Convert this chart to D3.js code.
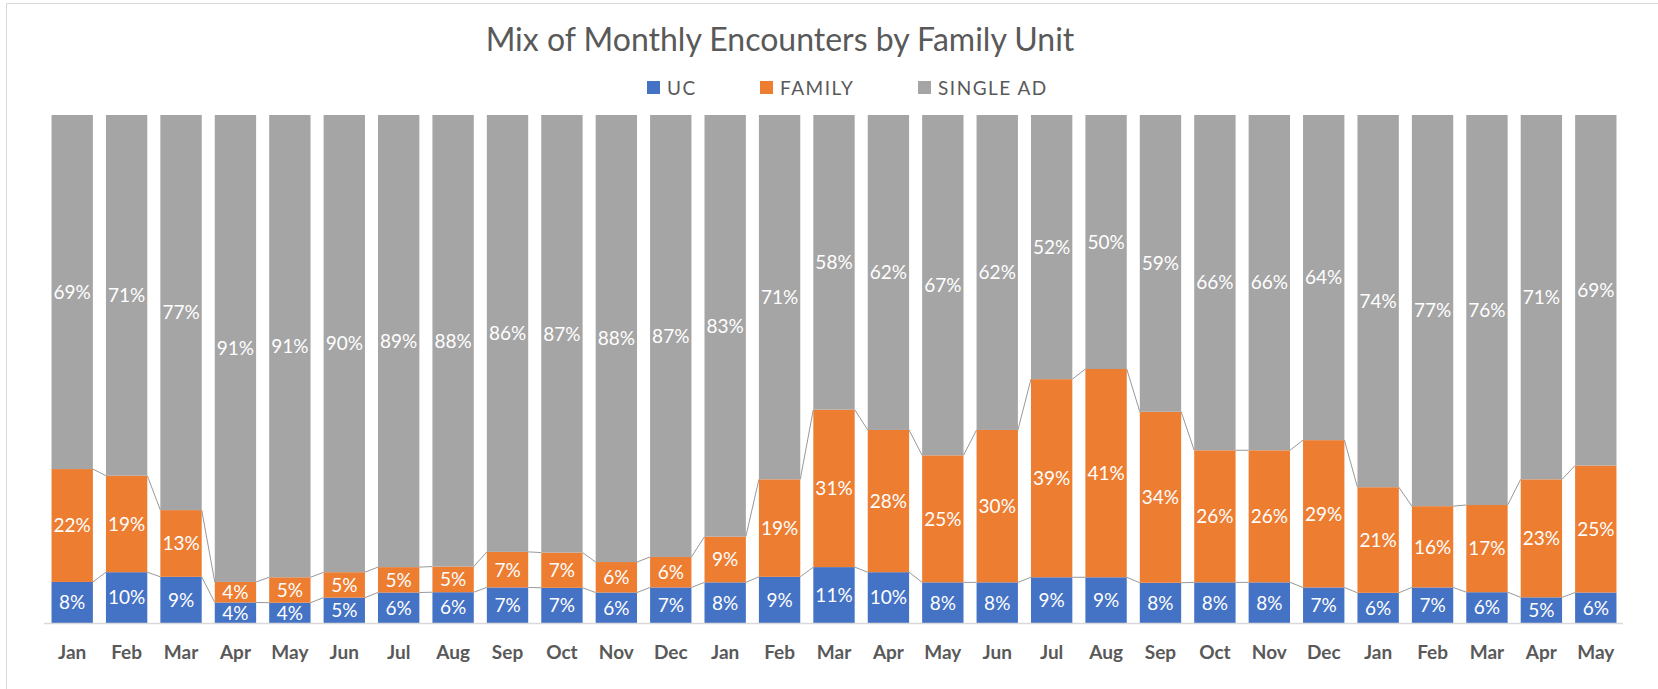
<!DOCTYPE html>
<html>
<head>
<meta charset="utf-8">
<script src="https://cdn.jsdelivr.net/npm/d3@7"></script>
<style>
  body { margin: 0; background: #fff; }
  svg { display: block; font-family: Lato, 'Open Sans', sans-serif; }
</style>
</head>
<body>
<svg></svg>
<script>
const months = ['Jan','Feb','Mar','Apr','May','Jun','Jul','Aug','Sep','Oct','Nov','Dec',
                'Jan','Feb','Mar','Apr','May','Jun','Jul','Aug','Sep','Oct','Nov','Dec',
                'Jan','Feb','Mar','Apr','May'];
const uc = [8,10,9,4,4,5,6,6,7,7,6,7,8,9,11,10,8,8,9,9,8,8,8,7,6,7,6,5,6];
const family = [22,19,13,4,5,5,5,5,7,7,6,6,9,19,31,28,25,30,39,41,34,26,26,29,21,16,17,23,25];
const singleAd = [69,71,77,91,91,90,89,88,86,87,88,87,83,71,58,62,67,62,52,50,59,66,66,64,74,77,76,71,69];
const seriesNames = ['UC', 'FAMILY', 'SINGLE AD'];
const seriesKeys = ['uc', 'family', 'single'];
const colors = ['#4472C4', '#ED7D31', '#A5A5A5'];

const width = 1658;
const height = 689;
const plotLeft = 45;
const plotRight = 1623;
const plotTop = 115;
const plotBottom = 623;

const svg = d3.select('svg')
  .attr('width', width)
  .attr('height', height);

const data = months.map((m, i) => ({ i: i, month: m, uc: uc[i], family: family[i], single: singleAd[i] }));

const stack = d3.stack()
  .keys(seriesKeys)
  .offset(d3.stackOffsetExpand);
const layers = stack(data);

const xScale = d3.scaleBand()
  .domain(d3.range(months.length))
  .range([plotLeft, plotRight])
  .paddingInner(0.24)
  .paddingOuter(0.12);

const yScale = d3.scaleLinear()
  .domain([0, 1])
  .range([plotBottom, plotTop]);

// chart area border (top and left edges visible)
svg.append('line')
  .attr('x1', 6.5).attr('y1', 3.5).attr('x2', width).attr('y2', 3.5)
  .attr('stroke', '#d9d9d9');
svg.append('line')
  .attr('x1', 6.5).attr('y1', 3.5).attr('x2', 6.5).attr('y2', height)
  .attr('stroke', '#d9d9d9');

// title
svg.append('text')
  .attr('x', 780)
  .attr('y', 51)
  .attr('text-anchor', 'middle')
  .style('font-size', '32px')
  .style('fill', '#595959')
  .text('Mix of Monthly Encounters by Family Unit');

// legend
const legendX = [647, 760, 918];
const legend = svg.append('g').attr('class', 'legend');
seriesNames.forEach((name, k) => {
  legend.append('rect')
    .attr('x', legendX[k])
    .attr('y', 81)
    .attr('width', 13)
    .attr('height', 13)
    .style('fill', colors[k]);
  legend.append('text')
    .attr('x', legendX[k] + 20)
    .attr('y', 95)
    .style('font-size', '19px')
    .style('letter-spacing', '1.5px')
    .style('fill', '#595959')
    .text(name);
});

// bars
const groups = svg.selectAll('g.layer')
  .data(layers)
  .enter()
  .append('g')
  .attr('class', 'layer')
  .style('fill', (d, k) => colors[k]);

groups.selectAll('rect')
  .data(d => d)
  .enter()
  .append('rect')
  .attr('x', d => xScale(d.data.i))
  .attr('y', d => yScale(d[1]))
  .attr('width', xScale.bandwidth())
  .attr('height', d => yScale(d[0]) - yScale(d[1]));

// series lines between bars
const seriesLine = svg.append('g')
  .attr('fill', 'none')
  .attr('stroke', '#999999')
  .attr('stroke-width', 1);
layers.slice(0, 2).forEach(layer => {
  for (let j = 0; j < layer.length - 1; j++) {
    seriesLine.append('line')
      .attr('x1', xScale(j) + xScale.bandwidth())
      .attr('y1', yScale(layer[j][1]))
      .attr('x2', xScale(j + 1))
      .attr('y2', yScale(layer[j + 1][1]));
  }
});

// data labels
layers.forEach((layer, k) => {
  svg.append('g')
    .selectAll('text')
    .data(layer)
    .enter()
    .append('text')
    .attr('x', d => xScale(d.data.i) + xScale.bandwidth() / 2)
    .attr('y', d => yScale((d[0] + d[1]) / 2))
    .attr('dy', '0.36em')
    .attr('text-anchor', 'middle')
    .style('font-size', '19px')
    .style('fill', '#ffffff')
    .text(d => d.data[seriesKeys[k]] + '%');
});

// x axis
svg.append('line')
  .attr('x1', plotLeft - 1)
  .attr('x2', plotRight)
  .attr('y1', plotBottom + 0.5)
  .attr('y2', plotBottom + 0.5)
  .attr('stroke', '#d9d9d9')
  .attr('stroke-width', 1.5);

const xAxis = d3.axisBottom(xScale)
  .tickSize(0)
  .tickPadding(23)
  .tickFormat(i => months[i]);

svg.append('g')
  .attr('transform', `translate(0, ${plotBottom})`)
  .call(xAxis)
  .call(g => g.select('.domain').remove())
  .selectAll('text')
  .style('font-family', 'Lato, sans-serif')
  .style('font-size', '19px')
  .style('font-weight', 'bold')
  .style('fill', '#595959');
</script>
</body>
</html>
